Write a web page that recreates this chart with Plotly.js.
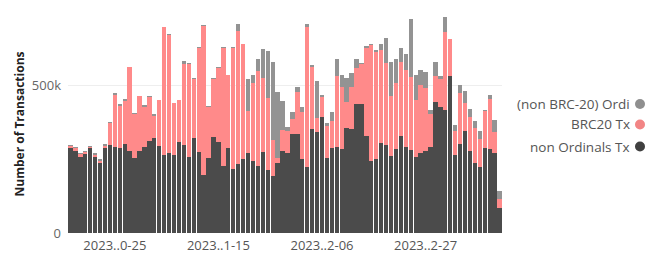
<!DOCTYPE html>
<html>
<head>
<meta charset="utf-8">
<script src="https://cdn.plot.ly/plotly-3.0.1.min.js"></script>
<style>html,body{margin:0;padding:0;background:#fff;}#chart{width:660px;height:260px;}</style>
</head>
<body>
<div id="chart"></div>
<script>
// Daily bars, 2023-10-16 .. 2024-01-11 (values in thousands of transactions)
const startDate = '2023-10-16';
const nDays = 88;
const dates = [];
{
  const d0 = new Date(startDate + 'T00:00:00Z');
  for (let i = 0; i < nDays; i++) {
    const d = new Date(d0.getTime() + i * 86400000);
    dates.push(d.toISOString().slice(0, 10));
  }
}

const nonOrdinals = [287,278,257,269,287,258,239,290,299,291,290,302,278,253,277,293,312,322,297,265,270,
  265,309,299,257,321,276,196,253,325,310,227,287,217,234,251,270,244,227,275,214,193,236,
  278,273,335,336,251,224,352,342,395,253,287,291,284,357,353,437,439,329,245,250,304,299,
  262,285,330,291,282,259,270,278,293,446,429,417,533,265,302,347,279,239,225,287,284,270,86];

const brc20 = [8,9,10,7,5,8,6,6,75,177,142,146,284,150,187,136,151,76,154,433,402,
  175,141,276,316,201,351,507,176,197,249,402,249,412,451,389,144,264,323,252,243,123,17,
  71,73,52,141,161,476,212,47,65,111,93,243,213,86,141,122,133,300,393,365,318,277,
  204,225,251,264,248,192,234,215,110,88,94,266,124,82,174,93,116,116,94,127,170,74,29];

const nonBrcOrdi = [5,6,4,4,3,4,6,6,2,8,5,6,2,6,2,5,2,6,2,2,2,
  2,2,9,3,5,3,2,1,5,4,1,2,1,26,2,109,28,39,97,162,263,227,
  99,15,25,20,17,8,6,127,8,10,32,55,39,82,49,30,5,5,2,6,19,87,
  115,79,46,53,195,84,51,52,14,47,11,49,3,19,26,42,26,26,28,2,14,39,29];

const xTickVals = ['2023-10-25','2023-11-15','2023-12-06','2023-12-27'];
const xTickText = ['2023..0-25','2023..1-15','2023..2-06','2023..2-27'];
const yTickVals = [0, 500];
const yTickText = ['0', '500k'];

const legendNames = ['(non BRC-20) Ordi', 'BRC20 Tx', 'non Ordinals Tx'];
const colDark = '#4b4b4b', colPink = '#ff8a8a', colGrey = '#939393';
const legendColors = ['#8f8f8f', '#f28585', '#404040'];

const traces = [
  {type:'bar', x:dates, y:nonOrdinals, name:'non Ordinals Tx', marker:{color:colDark}},
  {type:'bar', x:dates, y:brc20, name:'BRC20 Tx', marker:{color:colPink}},
  {type:'bar', x:dates, y:nonBrcOrdi, name:'(non BRC-20) Ordinals Tx', marker:{color:colGrey}}
];

// plot area: x 68..502, y 15..233
const plotL = 68, plotR = 502, plotT = 15, plotB = 233;
const pw = plotR - plotL, ph = plotB - plotT;
const legendRowsY = [104, 124.5, 146.5];
const annotations = [], shapes = [];
legendNames.forEach((nm, i) => {
  const yp = (plotB - legendRowsY[i]) / ph;
  annotations.push({xref:'paper', yref:'paper', x:(632 - plotL)/pw, y:yp, xanchor:'right', yanchor:'middle',
    text:nm, showarrow:false, font:{family:'Open Sans, sans-serif', size:13.5, color:'#555'}});
  shapes.push({type:'circle', xref:'paper', yref:'paper', xsizemode:'pixel', ysizemode:'pixel',
    xanchor:(640 - plotL)/pw, yanchor:yp, x0:-5, x1:5, y0:-5, y1:5,
    fillcolor:legendColors[i], line:{width:0}});
});

const layout = {
  width:660, height:260,
  margin:{l:plotL, r:660-plotR, t:plotT, b:260-plotB, pad:0},
  paper_bgcolor:'#fff', plot_bgcolor:'#fff',
  barmode:'stack', bargap:0.12,
  showlegend:false,
  font:{family:'Open Sans, sans-serif', size:13, color:'#555'},
  xaxis:{type:'date', range:['2023-10-15 12:00','2024-01-11 12:00'], tickvals:xTickVals, ticktext:xTickText,
    showgrid:false, zeroline:false, showline:false, ticks:'', ticklabelstandoff:3, tickfont:{size:13, color:'#555'}},
  yaxis:{range:[0,740], tickvals:yTickVals, ticktext:yTickText, showgrid:true, gridcolor:'#eeeeee', gridwidth:1,
    zeroline:false, showline:false, ticks:'', ticklabelstandoff:6, tickfont:{size:13, color:'#666'},
    title:{text:'<b>Number of Transactions</b>', font:{size:12, color:'#222'}, standoff:4}},
  annotations:annotations, shapes:shapes
};

Plotly.newPlot('chart', traces, layout, {displayModeBar:false, staticPlot:true});
</script>
</body>
</html>
